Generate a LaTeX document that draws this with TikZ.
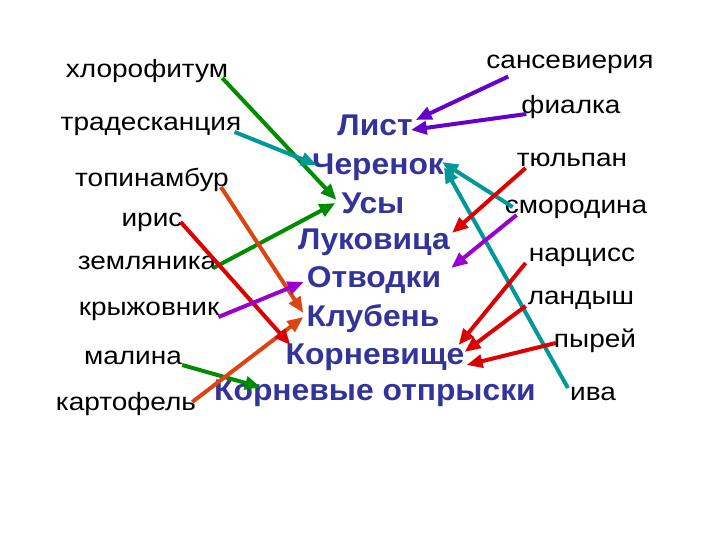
\documentclass[tikz,border=0pt]{standalone}
\usepackage{fontspec}
\setmainfont{Liberation Sans}
\newfontfamily\plantfont[FakeStretch=1.12]{Liberation Sans}
\newfontfamily\kindfont[FakeStretch=1.06]{Liberation Sans Bold}
\usetikzlibrary{arrows.meta}
\definecolor{kindblue}{RGB}{51,51,153}
\definecolor{grn}{RGB}{0,140,0}
\definecolor{aqua}{RGB}{0,153,153}
\definecolor{orng}{RGB}{221,68,17}
\definecolor{rd}{RGB}{221,0,0}
\definecolor{vio}{RGB}{102,0,204}
\definecolor{mag}{RGB}{153,0,204}
\tikzstyle{plant}=[inner sep=0pt, font=\plantfont\fontsize{25}{28}\selectfont]
\tikzstyle{kind}=[inner sep=0pt, text=kindblue, font=\kindfont\fontsize{30}{34}\selectfont]
\tikzstyle{link}=[-{Triangle[length=16pt,width=13pt]}, line width=4pt]
\begin{document}
\begin{tikzpicture}[x=1pt, y=-1pt]
    \useasboundingbox (0,0) rectangle (720,540);
    % plants on the left
    \node[plant] (l1) at (147,71) {хлорофитум};
    \node[plant] (l2) at (151,126) {традесканция};
    \node[plant] (l3) at (152,180) {топинамбур};
    \node[plant] (l4) at (152,222) {ирис};
    \node[plant] (l5) at (147,263) {земляника};
    \node[plant] (l6) at (149,311) {крыжовник};
    \node[plant] (l7) at (133,358) {малина};
    \node[plant] (l8) at (126,404) {картофель};
    % plants on the right
    \node[plant] (r1) at (570,64) {сансевиерия};
    \node[plant] (r2) at (571,107) {фиалка};
    \node[plant] (r3) at (572,160) {тюльпан};
    \node[plant] (r4) at (576,209) {смородина};
    \node[plant] (r5) at (582,257) {нарцисс};
    \node[plant] (r6) at (581,300) {ландыш};
    \node[plant] (r7) at (595,341) {пырей};
    \node[plant] (r8) at (593,394) {ива};
    % ways of propagation
    \node[kind] (m1) at (375,125) {Лист};
    \node[kind] (m2) at (378,167) {Черенок};
    \node[kind] (m3) at (373,203) {Усы};
    \node[kind] (m4) at (374,242) {Луковица};
    \node[kind] (m5) at (374,280) {Отводки};
    \node[kind] (m6) at (373,319) {Клубень};
    \node[kind] (m7) at (375,357) {Корневище};
    \node[kind] (m8) at (375,393) {Корневые отпрыски};

     \path[link, grn] ([shift={(-6,7)}]l1.east) edge ([shift={(-5,-3)}]m3.west);
     \path[link, grn] ([shift={(-3,5)}]l5.east) edge ([shift={(-6,0)}]m3.west);
     \path[link, grn] ([shift={(0,7)}]l7.east) edge ([shift={(47,8)}]m8.north west);

     \path[link, aqua] ([shift={(-7,6)}]l2.east) edge ([shift={(5,-2)}]m2.west);
     \path[link, aqua] ([shift={(8,-2)}]r4.west) edge ([shift={(-2,-5)}]m2.east);
     \path[link, aqua] ([shift={(-2,-6)}]r8.west) edge (m2.east);

     \path[link, orng] ([shift={(-8,7)}]l3.east) edge ([shift={(-3,-6)}]m6.west);
     \path[link, orng] ([shift={(-4,-2)}]l8.east) edge ([shift={(-3,-2)}]m6.west);

     \path[link, rd] ([shift={(-2,0)}]l4.east) edge ([shift={(5,-12)}]m7.west);
     \path[link, rd] ([shift={(9,8)}]r3.west) edge ([shift={(2,-9)}]m4.east);
     \path[link, rd] ([shift={(-3,6)}]r5.west) edge ([shift={(-6,-12)}]m7.east);
     \path[link, rd] ([shift={(-2,6)}]r6.west) edge ([shift={(0,-5)}]m7.east);
     \path[link, rd] ([shift={(2,2)}]r7.west) edge ([shift={(2,8)}]m7.east);

     \path[link, vio] ([shift={(22,3)}]r1.south west) edge ([shift={(3,-5)}]m1.east);
     \path[link, vio] ([shift={(5,7)}]r2.west) edge ([shift={(-2,5)}]m1.east);

     \path[link, mag] ([shift={(-1,6)}]l6.east) edge ([shift={(-3,2)}]m5.west);
     \path[link, mag] ([shift={(12,6)}]r4.west) edge ([shift={(10,-12)}]m5.east);
\end{tikzpicture}
\end{document}
